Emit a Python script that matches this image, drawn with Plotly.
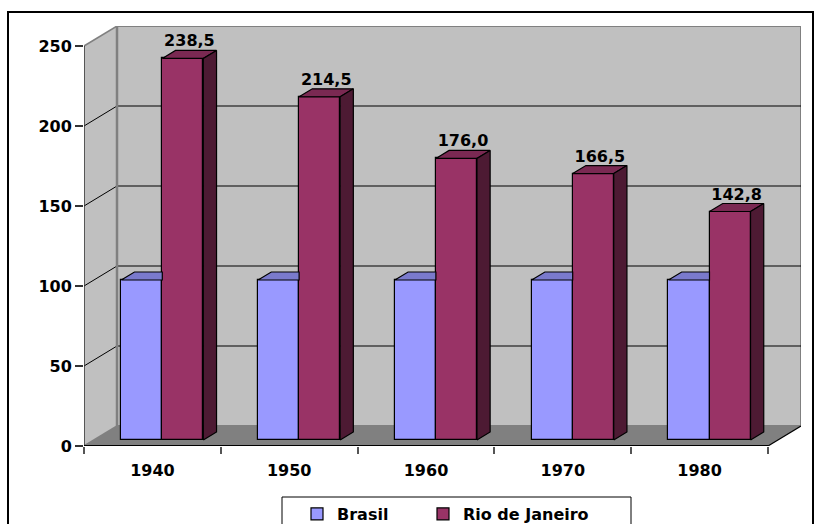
import plotly.graph_objects as go

# ---- data -------------------------------------------------------------
years = ["1940", "1950", "1960", "1970", "1980"]
brasil = [100, 100, 100, 100, 100]
rio = [238.5, 214.5, 176.0, 166.5, 142.8]
y_ticks = [0, 50, 100, 150, 200, 250]

# ---- pseudo 3-D geometry (x in category units, y in value units) -------
DX, DY = 0.2412, 12.5          # full depth of the box
BAR_W = 0.30                   # width of one bar
FRONT, DEPTH = 0.3, 0.4        # bars sit between 30% and 70% of the depth
base = FRONT * DY
shift = FRONT * DX
bdx, bdy = DEPTH * DX, DEPTH * DY
x_idx = list(range(len(years)))
x_lo, x_hi = -0.5, len(years) - 0.5
y_top = y_ticks[-1]

W, H = 815, 524
ML, MR, MT, MB = 84, 14, 26, 78
PW, PH = W - ML - MR, H - MT - MB

BRASIL, BRASIL_TOP = "#9999FF", "#7A7ACC"
RIO, RIO_TOP, RIO_SIDE = "#993366", "#7A2952", "#4D1A33"
WALL, FLOOR, EDGE = "#C0C0C0", "#808080", "#808080"
FONT = dict(family="DejaVu Sans", size=16, color="black", weight="bold")

fig = go.Figure()

# front faces
fig.add_trace(go.Bar(
    x=[i + shift - BAR_W / 2 for i in x_idx], y=brasil, base=base, width=BAR_W,
    name="Brasil", legend="legend",
    marker=dict(color=BRASIL, line=dict(color="black", width=1.2)),
    hoverinfo="skip"))
fig.add_trace(go.Bar(
    x=[i + shift + BAR_W / 2 for i in x_idx], y=rio, base=base, width=BAR_W,
    name="Rio de Janeiro", legend="legend2",
    marker=dict(color=RIO, line=dict(color="black", width=1.2)),
    hoverinfo="skip"))


def polys(pts_list):
    xs, ys = [], []
    for pts in pts_list:
        for px, py in pts + [pts[0]]:
            xs.append(px)
            ys.append(py)
        xs.append(None)
        ys.append(None)
    return xs, ys


# Brasil tops (clipped where the Rio bar stands in front)
b_top = []
for i, v in zip(x_idx, brasil):
    x0, x1, t = i + shift - BAR_W, i + shift, base + v
    b_top.append([(x0, t), (x1, t), (x1, t + bdy), (x0 + bdx, t + bdy)])
# Rio tops and sides
r_top, r_side = [], []
for i, v in zip(x_idx, rio):
    x0, x1, t = i + shift, i + shift + BAR_W, base + v
    r_top.append([(x0, t), (x1, t), (x1 + bdx, t + bdy), (x0 + bdx, t + bdy)])
    r_side.append([(x1, base), (x1, t), (x1 + bdx, t + bdy), (x1 + bdx, base + bdy)])

for pts, col in [(b_top, BRASIL_TOP), (r_top, RIO_TOP), (r_side, RIO_SIDE)]:
    xs, ys = polys(pts)
    fig.add_trace(go.Scatter(
        x=xs, y=ys, mode="lines", fill="toself", fillcolor=col,
        line=dict(color="black", width=1.2), showlegend=False, hoverinfo="skip"))

# value labels above the Rio bars
fig.add_trace(go.Scatter(
    x=[i + shift + BAR_W / 2 + bdx / 2 for i in x_idx],
    y=[base + v + bdy for v in rio],
    text=[f"{v:.1f}".replace(".", ",") for v in rio],
    mode="text", textposition="top center", textfont=FONT,
    showlegend=False, hoverinfo="skip"))

# ---- walls, floor and grid ---------------------------------------------
shapes = []


def path(pts):
    return "M " + " L ".join(f"{px},{py}" for px, py in pts) + " Z"


# back wall
shapes.append(dict(type="rect", xref="x", yref="y", layer="below",
                   x0=x_lo + DX, x1=x_hi + DX, y0=DY, y1=y_top + DY,
                   fillcolor=WALL, line=dict(color=EDGE, width=2)))
# side wall
shapes.append(dict(type="path", xref="x", yref="y", layer="below",
                   path=path([(x_lo, 0), (x_lo, y_top), (x_lo + DX, y_top + DY), (x_lo + DX, DY)]),
                   fillcolor=WALL, line=dict(width=0)))
# floor
shapes.append(dict(type="path", xref="x", yref="y", layer="below",
                   path=path([(x_lo, 0), (x_hi, 0), (x_hi + DX, DY), (x_lo + DX, DY)]),
                   fillcolor=FLOOR, line=dict(width=0)))


def seg(xa, ya, xb, yb, color, width):
    shapes.append(dict(type="line", xref="x", yref="y", layer="below",
                       x0=xa, y0=ya, x1=xb, y1=yb, line=dict(color=color, width=width)))


for v in y_ticks[1:-1]:
    seg(x_lo + DX, v + DY, x_hi + DX, v + DY, "#000000", 1)   # back wall grid
    seg(x_lo, v, x_lo + DX, v + DY, "#000000", 1)              # side wall grid
seg(x_lo, y_top, x_lo + DX, y_top + DY, EDGE, 1.5)
seg(x_lo + DX, DY, x_lo + DX, y_top + DY, EDGE, 2.5)
seg(x_lo, 0, x_lo + DX, DY, EDGE, 1.5)
seg(x_lo, 0, x_lo, y_top, "#333333", 1.5)
seg(x_hi, 0, x_hi + DX, DY, "#000000", 1.2)
seg(x_lo, 0, x_hi, 0, "#000000", 2)


def px_x(p):
    return (p - ML) / PW


def px_y(p):
    return (H - MB - p) / PH


# outer frame and legend frame
shapes.append(dict(type="rect", xref="paper", yref="paper", layer="above",
                   x0=px_x(8), x1=px_x(813), y0=px_y(540), y1=px_y(12),
                   line=dict(color="black", width=2), fillcolor="rgba(0,0,0,0)"))
shapes.append(dict(type="rect", xref="paper", yref="paper", layer="above",
                   x0=px_x(282), x1=px_x(631), y0=px_y(540), y1=px_y(497),
                   line=dict(color="black", width=1), fillcolor="rgba(0,0,0,0)"))

leg = dict(orientation="h", xref="container", yref="container",
           xanchor="left", yanchor="top", y=(H - 497) / H,
           borderwidth=0, bgcolor="rgba(0,0,0,0)", font=FONT)

fig.update_layout(
    width=W, height=H,
    margin=dict(l=ML, r=MR, t=MT, b=MB, pad=0),
    paper_bgcolor="white", plot_bgcolor="white",
    barmode="overlay", bargap=0,
    font=FONT,
    shapes=shapes,
    showlegend=True,
    legend=dict(leg, x=297 / W),
    legend2=dict(leg, x=423 / W),
    xaxis=dict(range=[x_lo, x_hi + DX], tickvals=x_idx, ticktext=years,
               showgrid=False, zeroline=False, showline=False,
               ticks="outside", ticklen=10, tickcolor="rgba(0,0,0,0)",
               tickfont=FONT,
               minor=dict(tickvals=[x_lo + k for k in range(len(years) + 1)],
                          ticks="outside", ticklen=7, tickcolor="#555555", tickwidth=1.5)),
    yaxis=dict(range=[0, y_top + DY], tickvals=y_ticks,
               showgrid=False, zeroline=False, showline=False,
               ticks="outside", ticklen=8, tickcolor="#333333", tickwidth=1.5,
               tickfont=FONT),
)

fig.write_html("out.html")
